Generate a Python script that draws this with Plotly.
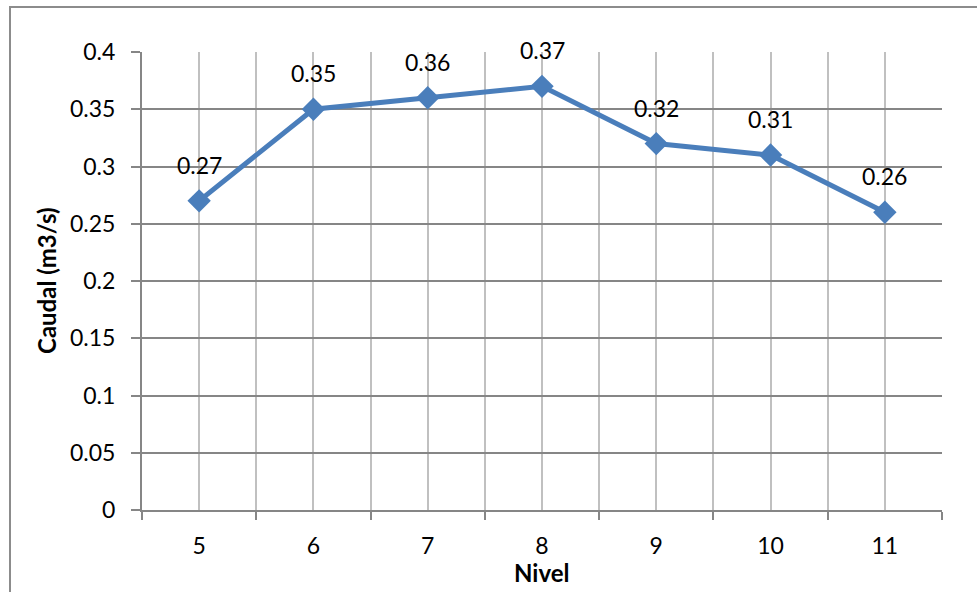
import plotly.graph_objects as go

niveles = [5, 6, 7, 8, 9, 10, 11]
caudal = [0.27, 0.35, 0.36, 0.37, 0.32, 0.31, 0.26]
labels = ["0.27", "0.35", "0.36", "0.37", "0.32", "0.31", "0.26"]
y_ticks = [0, 0.05, 0.1, 0.15, 0.2, 0.25, 0.3, 0.35, 0.4]
y_ticktext = ["0", "0.05", "0.1", "0.15", "0.2", "0.25", "0.3", "0.35", "0.4"]

FONT = "Lato, Calibri, Carlito, sans-serif"
BLUE = "#4a7ebb"

fig = go.Figure()
fig.add_trace(go.Scatter(
    x=niveles, y=caudal, mode="lines+markers",
    line=dict(color=BLUE, width=5),
    marker=dict(symbol="diamond", size=18, color=BLUE),
    showlegend=False, hoverinfo="skip",
))

for xv, yv, t in zip(niveles, caudal, labels):
    fig.add_annotation(x=xv, y=yv, text=t, showarrow=False, yshift=36,
                       yanchor="middle",
                       font=dict(family=FONT, size=23, color="#000000"))

fig.add_annotation(xref="paper", yref="paper", x=0, y=0.5, xshift=-96,
                   xanchor="center", yanchor="middle",
                   text="<b>Caudal (m3/s)</b>", textangle=-90, showarrow=False,
                   font=dict(family=FONT, size=24, color="#000000"))
fig.add_annotation(xref="paper", yref="paper", x=0.5, y=0, yshift=-62,
                   xanchor="center", yanchor="middle",
                   text="<b>Nivel</b>", showarrow=False,
                   font=dict(family=FONT, size=24, color="#000000"))

fig.add_shape(type="rect", xref="paper", yref="paper",
              x0=-0.165, x1=1.2, y0=-0.3, y1=1.098,
              line=dict(color="#8c8c8c", width=2), fillcolor="rgba(0,0,0,0)",
              layer="below")

fig.update_layout(
    width=977, height=592,
    margin=dict(l=142, r=35, t=52, b=82),
    paper_bgcolor="white", plot_bgcolor="white",
    font=dict(family=FONT, size=23, color="#000000"),
    xaxis=dict(
        range=[4.5, 11.5], tickvals=niveles, ticktext=[str(v) for v in niveles],
        showgrid=True, gridcolor="#c0c0c0", gridwidth=1.5,
        ticks="", ticklabelstandoff=14,
        showline=True, linecolor="#868686", linewidth=2,
        zeroline=False, mirror=False,
        minor=dict(tick0=4.5, dtick=1, showgrid=True, gridcolor="#c0c0c0",
                   gridwidth=1.5, ticks="outside", ticklen=8, tickcolor="#868686",
                   tickwidth=2),
    ),
    yaxis=dict(
        range=[0, 0.4], tickvals=y_ticks, ticktext=y_ticktext,
        showgrid=True, gridcolor="#868686", gridwidth=1.5,
        ticks="outside", ticklen=9, tickcolor="#868686", tickwidth=2,
        ticklabelstandoff=11,
        showline=True, linecolor="#868686", linewidth=2,
        zeroline=False,
    ),
)

fig.write_html("out.html")
